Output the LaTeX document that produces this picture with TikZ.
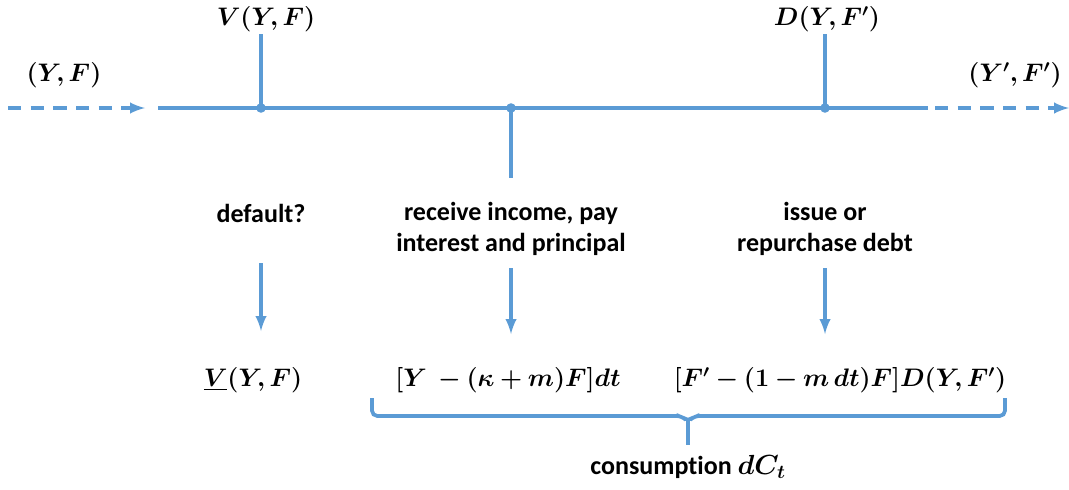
\documentclass[tikz,border=0pt]{standalone}
\usepackage{amsmath, amssymb, bm}
\usepackage{fontspec}
\setmainfont{Carlito}[Ligatures=NoCommon]
\usepackage{tikz}
\usetikzlibrary{positioning}
\definecolor{tlblue}{HTML}{5B9BD5}

\begin{document}
\begin{tikzpicture}[>=latex, x=0.75pt, y=-0.75pt,
    tl/.style={tlblue, line width=2.8pt},
    lab/.style={font=\fontsize{19.5}{21}\selectfont\bfseries, align=center, inner sep=0pt},
    mth/.style={font=\fontsize{17.28}{21}\selectfont, inner sep=0pt, scale=1.1}]
    \useasboundingbox (0,0) rectangle (1069,489);
    % 1. Time line
    \coordinate (t0) at (158,108);
    \coordinate (t1) at (928,108);
    \coordinate (p1) at (261,108);
    \coordinate (p2) at (511,108);
    \coordinate (p3) at (825,108);
    \draw[tl] (t0) -- (t1);
    \draw[tl, dash pattern=on 10pt off 7pt, ->] (8,108) coordinate (inl) -- (145,108) coordinate (inr);
    \draw[tl, dash pattern=on 10pt off 7pt, ->] (935,108) coordinate (outl) -- (1069,108) coordinate (outr);
    \foreach \p in {p1, p2, p3}
        \fill[tlblue] (\p) circle (3.6pt);
    \node[mth] (st0) at (64,75) {$\bm{(Y,F)}$};
    \node[mth] (st1) at (1015,75) {$\bm{(Y',F')}$};

    % 2. Values above the line
    \node[mth] (vval) at (266,19) {$\bm{V(Y,F)}$};
    \node[mth] (dval) at (827,19) {$\bm{D(Y,F')}$};
    \draw[tl] (261,34) -- (p1);
    \draw[tl] (825,34) -- (p3);
    \draw[tl] (p2) -- (511,178);

    % 3. Stages
    \node[lab] (dflt) at (261,213) {default?};
    \node[lab] (inc) at (511,229) {receive income, pay\\[2pt]interest and principal};
    \node[lab] (iss) at (825,229) {issue or\\[2pt]repurchase debt};
    \node[mth] (vlow) at (253,380) {$\underline{\bm{V}}\bm{(Y,F)}$};
    \node[mth] (flow) at (508,380) {$\bm{[Y\ -(\kappa+m)F]dt}$};
    \node[mth] (debt) at (840,380) {$\bm{[F'-(1-m\,dt)F]D(Y,F')}$};
    \draw[tl, ->] (261,263) -- (261,331);
    \draw[tl, ->] (511,268) -- (511,334);
    \draw[tl, ->] (825,268) -- (825,334);

    % 4. Brace for consumption
    \draw[tl, rounded corners=4pt] (372,398) -- (372,416) -- (682,416)
        -- (688,422) -- (694,416) -- (1005,416) -- (1005,398);
    \draw[tl] (688,420) -- (688,445);
    \node[lab] (cons) at (688,467) {consumption $\bm{dC_t}$};
\end{tikzpicture}
\end{document}
